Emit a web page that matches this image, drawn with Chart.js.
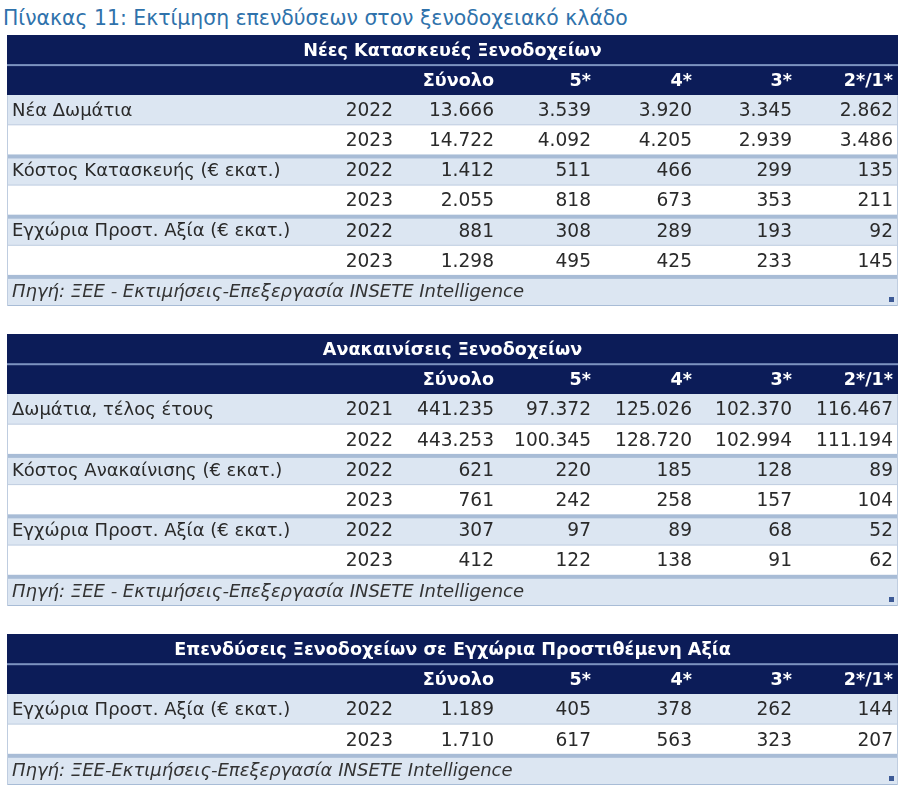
<!DOCTYPE html>
<html>
<head>
  <meta charset="utf-8">
  <title>Πίνακας 11</title>
  <script src="https://cdn.jsdelivr.net/npm/chart.js"></script>
  <style>
    body { margin: 0; background: #fff; font-family: "DejaVu Sans", sans-serif; }
    #title { position: absolute; left: 3px; top: 6px; font-size: 20.4px; color: #2f72ab; white-space: nowrap; }
    .tbl { position: absolute; left: 7px; }
  </style>
</head>
<body>
<div id="title">Πίνακας 11: Εκτίμηση επενδύσεων στον ξενοδοχειακό κλάδο</div>
<div class="tbl" style="top:35px"><canvas id="t1" width="891" height="271"></canvas></div>
<div class="tbl" style="top:334px"><canvas id="t2" width="891" height="272"></canvas></div>
<div class="tbl" style="top:634px"><canvas id="t3" width="891" height="151"></canvas></div>
<script>
const columns = ['Σύνολο', '5*', '4*', '3*', '2*/1*'];

const newTitle = 'Νέες Κατασκευές Ξενοδοχείων';
const newLabels = ['Νέα Δωμάτια', '', 'Κόστος Κατασκευής (€ εκατ.)', '', 'Εγχώρια Προστ. Αξία (€ εκατ.)', ''];
const newYears = [2022, 2023, 2022, 2023, 2022, 2023];
const newTotal = [13666, 14722, 1412, 2055, 881, 1298];
const new5 = [3539, 4092, 511, 818, 308, 495];
const new4 = [3920, 4205, 466, 673, 289, 425];
const new3 = [3345, 2939, 299, 353, 193, 233];
const new21 = [2862, 3486, 135, 211, 92, 145];
const newSource = 'Πηγή: ΞΕΕ - Εκτιμήσεις-Επεξεργασία INSETE Intelligence';

const renTitle = 'Ανακαινίσεις Ξενοδοχείων';
const renLabels = ['Δωμάτια, τέλος έτους', '', 'Κόστος Ανακαίνισης (€ εκατ.)', '', 'Εγχώρια Προστ. Αξία (€ εκατ.)', ''];
const renYears = [2021, 2022, 2022, 2023, 2022, 2023];
const renTotal = [441235, 443253, 621, 761, 307, 412];
const ren5 = [97372, 100345, 220, 242, 97, 122];
const ren4 = [125026, 128720, 185, 258, 89, 138];
const ren3 = [102370, 102994, 128, 157, 68, 91];
const ren21 = [116467, 111194, 89, 104, 52, 62];
const renSource = 'Πηγή: ΞΕΕ - Εκτιμήσεις-Επεξεργασία INSETE Intelligence';

const gvaTitle = 'Επενδύσεις Ξενοδοχείων σε Εγχώρια Προστιθέμενη Αξία';
const gvaLabels = ['Εγχώρια Προστ. Αξία (€ εκατ.)', ''];
const gvaYears = [2022, 2023];
const gvaTotal = [1189, 1710];
const gva5 = [405, 617];
const gva4 = [378, 563];
const gva3 = [262, 323];
const gva21 = [144, 207];
const gvaSource = 'Πηγή: ΞΕΕ-Εκτιμήσεις-Επεξεργασία INSETE Intelligence';

// table layout (x units = pixels inside the table)
const W = 891;
const labelX = 5, yearX = 386;
const colRight = [487, 584, 685, 785, 886];
const NAVY = '#0c1c58', LIGHT = '#dce6f2', SEP = '#a8bcd6', THIN = '#bfcde0';

const fmt = n => String(n).replace(/\B(?=(\d{3})+(?!\d))/g, '.');

function makeTable(id, title, labels, years, cols, source) {
  const rows = ['title', 'head', ...labels.map((_, i) => 'r' + i), 'source'];
  const bg = rows.map((r, i) => r === 'title' || r === 'head' ? NAVY : r === 'source' ? LIGHT : ((i - 2) % 2 === 0 ? LIGHT : '#ffffff'));
  new Chart(document.getElementById(id), {
    type: 'bar',
    data: {
      labels: rows,
      datasets: [{ data: rows.map(() => [0, W]), backgroundColor: bg, borderWidth: 0, barPercentage: 1, categoryPercentage: 1 }]
    },
    options: {
      indexAxis: 'y',
      responsive: false,
      animation: false,
      layout: { padding: 0 },
      plugins: { legend: { display: false }, tooltip: { enabled: false } },
      scales: {
        x: { type: 'linear', min: 0, max: W, display: false },
        y: { type: 'category', display: false, offset: true }
      }
    },
    plugins: [{
      id: 'cells',
      afterDatasetsDraw(chart) {
        const { ctx, scales: { x } } = chart;
        const bars = chart.getDatasetMeta(0).data;
        const top = b => b.y - b.height / 2, bot = b => b.y + b.height / 2;
        ctx.save();
        // borders
        ctx.fillStyle = '#7d93c0';
        ctx.fillRect(x.left, bot(bars[0]) - 1, x.width, 2);
        for (let i = 2; i < rows.length - 1; i++) {
          const b = bars[i];
          if ((i - 2) % 2 === 1) { ctx.fillStyle = SEP; ctx.fillRect(x.left, bot(b) - 1, x.width, 4); }
          else { ctx.fillStyle = THIN; ctx.fillRect(x.left, bot(b) - 1, x.width, 1); }
        }
        const last = bars[rows.length - 1];
        ctx.fillStyle = SEP;
        ctx.fillRect(x.left, bot(last) - 1, x.width, 1);
        ctx.fillStyle = THIN;
        ctx.fillRect(x.left, top(bars[2]), 1, bot(last) - top(bars[2]));
        ctx.fillRect(x.right - 1, top(bars[2]), 1, bot(last) - top(bars[2]));
        ctx.fillStyle = '#3d5a96';
        ctx.fillRect(x.getPixelForValue(W) - 9, bot(last) - 9, 5, 5);
        // text
        ctx.textBaseline = 'middle';
        ctx.fillStyle = '#ffffff';
        ctx.font = 'bold 17.6px "DejaVu Sans"';
        ctx.textAlign = 'center';
        ctx.fillText(title, x.getPixelForValue(W / 2), bars[0].y + 1);
        ctx.textAlign = 'right';
        columns.forEach((c, j) => ctx.fillText(c, x.getPixelForValue(colRight[j]), bars[1].y + 1));
        ctx.fillStyle = '#2a2a2a';
        labels.forEach((lab, i) => {
          const yy = bars[i + 2].y + 1;
          ctx.font = '18px "DejaVu Sans"';
          ctx.textAlign = 'left';
          ctx.fillText(lab, x.getPixelForValue(labelX), yy);
          ctx.font = '18.6px "DejaVu Sans"';
          ctx.textAlign = 'right';
          ctx.fillText(String(years[i]), x.getPixelForValue(yearX), yy);
          cols.forEach((vals, j) => ctx.fillText(fmt(vals[i]), x.getPixelForValue(colRight[j]), yy));
        });
        ctx.font = 'italic 18px "DejaVu Sans"';
        ctx.fillStyle = '#333333';
        ctx.textAlign = 'left';
        ctx.fillText(source, x.getPixelForValue(labelX), last.y + 1);
        ctx.restore();
      }
    }]
  });
}

makeTable('t1', newTitle, newLabels, newYears, [newTotal, new5, new4, new3, new21], newSource);
makeTable('t2', renTitle, renLabels, renYears, [renTotal, ren5, ren4, ren3, ren21], renSource);
makeTable('t3', gvaTitle, gvaLabels, gvaYears, [gvaTotal, gva5, gva4, gva3, gva21], gvaSource);
</script>
</body>
</html>
